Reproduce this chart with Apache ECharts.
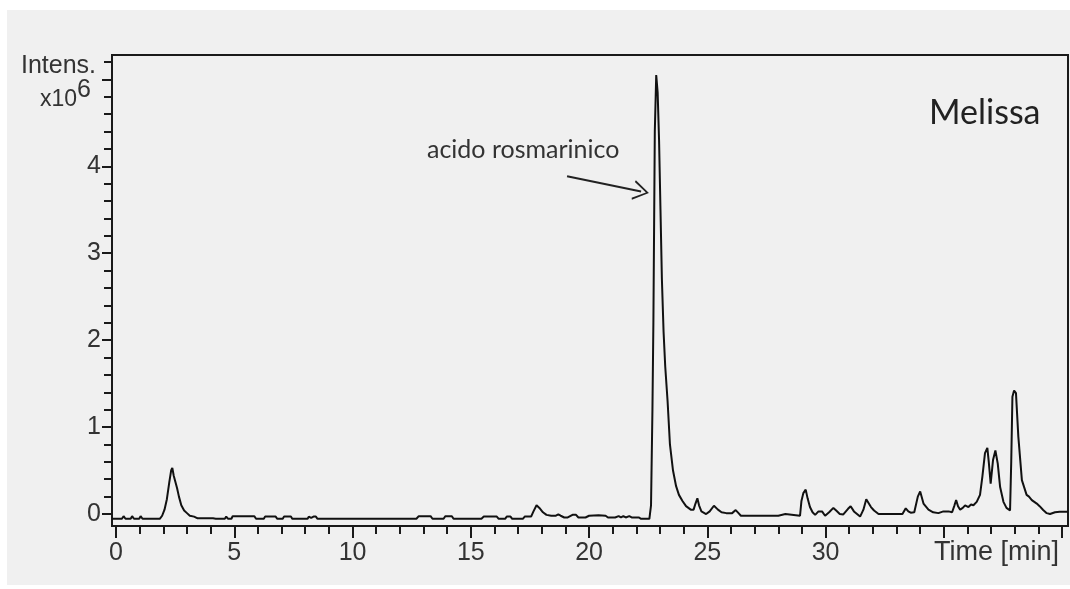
<!DOCTYPE html>
<html>
<head>
<meta charset="utf-8">
<script src="https://cdn.jsdelivr.net/npm/echarts@6/dist/echarts.min.js"></script>
<style>
  body { margin: 0; background: #fff; }
  .panel { position: absolute; left: 7px; top: 10px; width: 1063px; height: 575px; background: #f0f0f0; }
  #chart { position: absolute; left: 0; top: 0; width: 1070px; height: 589px; }
</style>
</head>
<body>
<div class="panel"></div>
<div id="chart"></div>
<script>
// retention time (min) and intensity (x10^6)
var timeMin = [
  -0.17, 0.25, 0.32, 0.4, 0.62, 0.68, 0.76, 0.98, 1.04, 1.12, 1.85, 1.95, 2.05, 2.15, 2.25, 2.33, 2.38, 2.44, 2.5, 2.58,
  2.66, 2.76, 2.88, 3.0, 3.12, 3.3, 3.45, 3.55, 3.6, 3.66, 3.9, 4.1, 4.15, 4.22, 4.6, 4.66, 4.74, 4.88, 4.93, 5.25,
  5.3, 5.36, 5.85, 5.92, 6.25, 6.3, 6.45, 6.5, 6.6, 6.75, 6.82, 7.05, 7.1, 7.4, 7.45, 8.1, 8.15, 8.25, 8.35, 8.45,
  8.52, 9.35, 9.4, 9.45, 10.15, 10.2, 10.25, 11.35, 11.42, 11.5, 12.7, 12.8, 12.95, 13.0, 13.08, 13.3, 13.38, 13.85, 13.92, 14.2,
  14.27, 15.45, 15.55, 16.1, 16.18, 16.45, 16.52, 16.68, 16.75, 17.2, 17.28, 17.55, 17.65, 17.78, 17.9, 18.05, 18.2, 18.4, 18.6, 18.7,
  18.8, 18.95, 19.1, 19.3, 19.45, 19.55, 19.85, 20.0, 20.4, 20.7, 20.8, 20.95, 21.0, 21.1, 21.25, 21.35, 21.45, 21.55, 21.7, 21.8,
  22.1, 22.2, 22.55, 22.62, 22.68, 22.72, 22.78, 22.84, 22.9, 22.96, 23.02, 23.08, 23.15, 23.22, 23.32, 23.42, 23.55, 23.68, 23.8, 23.95,
  24.1, 24.3, 24.42, 24.5, 24.58, 24.65, 24.75, 24.95, 25.1, 25.28, 25.45, 25.6, 25.8, 26.05, 26.2, 26.32, 26.42, 26.85, 26.9, 26.97,
  28.0, 28.08, 28.3, 28.38, 28.92, 28.98, 29.06, 29.16, 29.24, 29.34, 29.45, 29.56, 29.7, 29.77, 29.85, 29.98, 30.15, 30.33, 30.45, 30.6,
  30.75, 30.95, 31.06, 31.2, 31.46, 31.6, 31.72, 31.8, 31.92, 32.05, 32.24, 33.25, 33.39, 33.5, 33.6, 33.75, 33.9, 34.0, 34.14, 34.35,
  34.55, 34.77, 34.98, 35.2, 35.35, 35.45, 35.52, 35.6, 35.69, 35.8, 35.9, 36.04, 36.15, 36.25, 36.39, 36.53, 36.63, 36.74, 36.84, 36.9,
  36.98, 37.08, 37.18, 37.28, 37.38, 37.52, 37.65, 37.8, 37.85, 37.9, 37.97, 38.05, 38.15, 38.3, 38.5, 38.6, 38.72, 38.8, 38.93, 39.05,
  39.2, 39.35, 39.49, 39.7, 39.9, 40.25
];
var intensity = [
  -0.055, -0.055, -0.025, -0.055, -0.055, -0.025, -0.055, -0.055, -0.025, -0.055, -0.055, -0.02, 0.05, 0.17, 0.36, 0.5, 0.53, 0.44, 0.45, 0.3,
  0.2, 0.1, 0.04, 0.01, -0.02, -0.03, -0.05, -0.05, -0.03, -0.05, -0.05, -0.05, -0.03, -0.055, -0.055, -0.03, -0.055, -0.055, -0.025, -0.025,
  -0.01, -0.025, -0.025, -0.055, -0.055, -0.03, -0.03, -0.045, -0.03, -0.03, -0.055, -0.055, -0.03, -0.03, -0.055, -0.055, -0.03, -0.045, -0.03, -0.03,
  -0.055, -0.055, -0.035, -0.055, -0.055, -0.035, -0.055, -0.055, -0.035, -0.055, -0.055, -0.025, -0.025, -0.01, -0.025, -0.025, -0.055, -0.055, -0.025, -0.025,
  -0.055, -0.055, -0.03, -0.03, -0.055, -0.055, -0.03, -0.03, -0.055, -0.055, -0.03, -0.03, 0.03, 0.1, 0.07, 0.02, -0.01, -0.02, -0.02, -0.005,
  -0.02, -0.04, -0.04, -0.01, -0.01, -0.04, -0.04, -0.02, -0.015, -0.02, -0.04, -0.04, -0.025, -0.04, -0.025, -0.04, -0.025, -0.04, -0.025, -0.04,
  -0.04, -0.055, -0.055, 0.1, 1.2, 2.2, 4.4, 5.05, 4.85, 4.3, 3.5, 2.7, 2.1, 1.7, 1.3, 0.8, 0.5, 0.32, 0.22, 0.15,
  0.09, 0.05, 0.05, 0.12, 0.18, 0.1, 0.03, 0.0, 0.03, 0.095, 0.05, 0.02, 0.01, 0.01, 0.045, 0.01, -0.02, -0.02, -0.005, -0.02,
  -0.02, 0.0, 0.0, -0.02, -0.02, 0.15, 0.24, 0.28, 0.18, 0.08, 0.02, -0.01, 0.03, 0.04, 0.03, -0.02, 0.02, 0.07, 0.04, 0.0,
  -0.005, 0.06, 0.09, 0.03, -0.03, 0.05, 0.17, 0.16, 0.08, 0.04, 0.0, 0.0, 0.065, 0.03, 0.015, 0.02, 0.2, 0.26, 0.12, 0.05,
  0.02, 0.01, 0.03, 0.03, 0.02, 0.1, 0.16, 0.09, 0.05, 0.07, 0.1, 0.08, 0.11, 0.1, 0.14, 0.22, 0.43, 0.7, 0.76, 0.6,
  0.35, 0.62, 0.73, 0.58, 0.31, 0.14, 0.07, 0.04, 0.6, 1.35, 1.42, 1.39, 0.89, 0.39, 0.22, 0.2, 0.16, 0.17, 0.12, 0.09,
  0.046, 0.01, 0.0, 0.02, 0.027, 0.027
];

var xMajorTicks = [0, 5, 10, 15, 20, 25, 30, 35, 40];
var xLabels = [0, 5, 10, 15, 20, 25, 30];
var yMajorTicks = [0, 1, 2, 3, 4, 5];
var yLabels = [0, 1, 2, 3, 4];

var xMinorTicks = [];
for (var i = 0; i <= 40; i++) { if (i % 5 !== 0) xMinorTicks.push(i); }
var yMinorTicks = [];
for (var j = 1; j <= 26; j++) { if (j % 5 !== 0) yMinorTicks.push(+(j * 0.2).toFixed(1)); }

var trace = timeMin.map(function (t, k) { return [t, intensity[k]]; });

var ink = '#1a1a1a';
var font = '"Liberation Sans", Arial, sans-serif';
var font2 = 'Lato, "Open Sans", sans-serif';
var xMin = -0.17, xMax = 40.25, yMin = -0.138, yMax = 5.28;

var myChart = echarts.init(document.getElementById('chart'));
var option = {
  animation: false,
  backgroundColor: 'transparent',
  grid: {
    left: 112, top: 55, right: 2, bottom: 63,
    show: true, borderColor: ink, borderWidth: 2, backgroundColor: 'transparent'
  },
  xAxis: [
    {
      type: 'value', min: xMin, max: xMax, position: 'bottom',
      axisLine: { show: true, onZero: false, lineStyle: { color: ink, width: 2 } },
      axisTick: { show: true, inside: false, length: 12, customValues: xMajorTicks, lineStyle: { color: ink, width: 2 } },
      axisLabel: { customValues: xLabels, fontSize: 25, color: '#333', margin: 15, fontFamily: font },
      splitLine: { show: false }
    },
    {
      type: 'value', min: xMin, max: xMax, position: 'bottom',
      axisLine: { show: false, onZero: false },
      axisTick: { show: true, inside: false, length: 8, customValues: xMinorTicks, lineStyle: { color: ink, width: 2 } },
      axisLabel: { show: false },
      splitLine: { show: false }
    }
  ],
  yAxis: [
    {
      type: 'value', min: yMin, max: yMax, position: 'left',
      axisLine: { show: true, onZero: false, lineStyle: { color: ink, width: 2 } },
      axisTick: { show: true, inside: false, length: 10, customValues: yMajorTicks, lineStyle: { color: ink, width: 2 } },
      axisLabel: { customValues: yLabels, fontSize: 25, color: '#333', margin: 11, fontFamily: font },
      splitLine: { show: false }
    },
    {
      type: 'value', min: yMin, max: yMax, position: 'left',
      axisLine: { show: false, onZero: false },
      axisTick: { show: true, inside: false, length: 8, customValues: yMinorTicks, lineStyle: { color: ink, width: 2 } },
      axisLabel: { show: false },
      splitLine: { show: false }
    }
  ],
  series: [
    {
      type: 'line',
      data: trace,
      showSymbol: false,
      symbol: 'none',
      lineStyle: { color: '#111', width: 2 },
      silent: true,
      markLine: {
        silent: true,
        symbolSize: [20, 16],
        label: { show: false },
        lineStyle: { color: '#222', width: 2, type: 'solid' },
        data: [[
          { coord: [19.07, 3.885], symbol: 'none' },
          { coord: [22.2, 3.71], symbol: 'path://M0,12 L6,0 L12,12 L10.8,12.5 L6,2.4 L1.2,12.5 Z' }
        ]]
      }
    }
  ],
  graphic: [
    { type: 'text', left: 21, top: 54, style: { text: 'Intens.', font: '25px ' + font, fill: '#333' } },
    { type: 'text', left: 40, top: 88, style: { text: 'x10', font: '23px ' + font, fill: '#333' } },
    { type: 'text', left: 77, top: 78, style: { text: '6', font: '25px ' + font, fill: '#333' } },
    { type: 'text', left: 934, top: 539, style: { text: 'Time [min]', font: '27px ' + font, fill: '#333' } },
    { type: 'text', left: 929, top: 96, style: { text: 'Melissa', font: '34px ' + font2, fill: '#222' } },
    { type: 'text', left: 427, top: 137, style: { text: 'acido rosmarinico', font: '25px ' + font2, fill: '#333' } }
  ]
};
myChart.setOption(option, true);
window.addEventListener('resize', function () { myChart.resize(); });
</script>
</body>
</html>
